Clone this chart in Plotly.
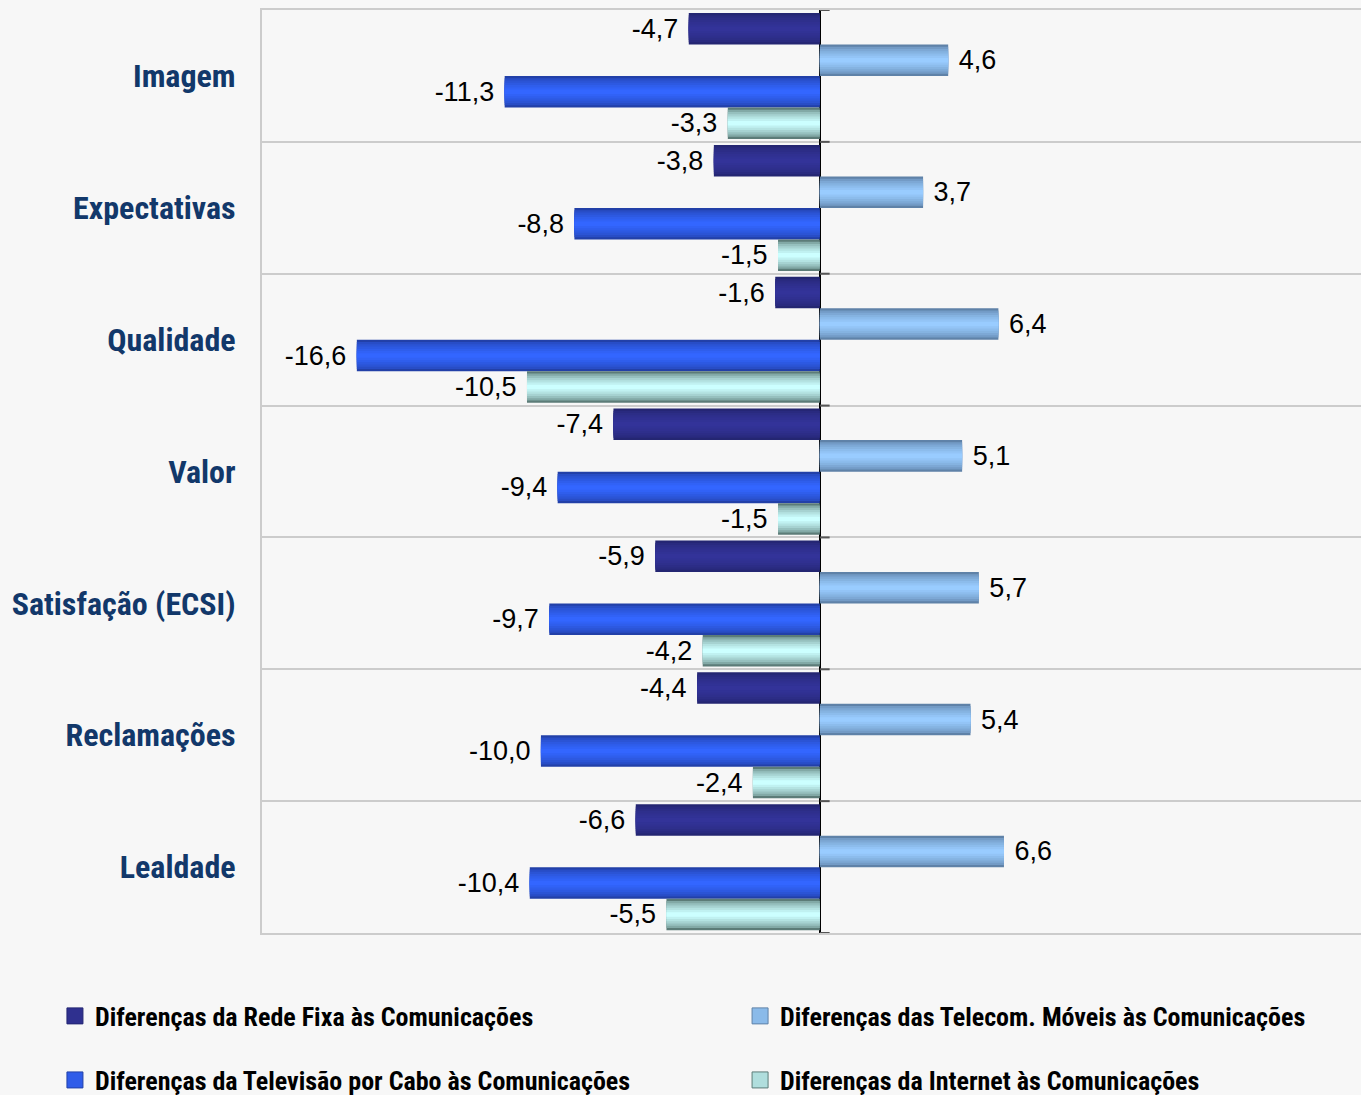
import plotly.graph_objects as go

# Indicator categories (top to bottom) and the four series of differences
categories = ["Imagem", "Expectativas", "Qualidade", "Valor",
              "Satisfação (ECSI)", "Reclamações", "Lealdade"]
rede_fixa = [-4.7, -3.8, -1.6, -7.4, -5.9, -4.4, -6.6]
moveis = [4.6, 3.7, 6.4, 5.1, 5.7, 5.4, 6.6]
tv_cabo = [-11.3, -8.8, -16.6, -9.4, -9.7, -10.0, -10.4]
internet = [-3.3, -1.5, -10.5, -1.5, -4.2, -2.4, -5.5]

series_names = [
    "Diferenças da Rede Fixa às Comunicações",
    "Diferenças das Telecom. Móveis às Comunicações",
    "Diferenças da Televisão por Cabo às Comunicações",
    "Diferenças da Internet às Comunicações",
]
series_values = [rede_fixa, moveis, tv_cabo, internet]

# edge colour -> centre colour of the cylinder-like shading of each series
edge_colors = [(0x24, 0x26, 0x72), (0x5F, 0x82, 0xA8), (0x22, 0x40, 0xA8), (0x5C, 0x7C, 0x78)]
centre_colors = [(0x33, 0x33, 0x99), (0x99, 0xCC, 0xFF), (0x33, 0x66, 0xFF), (0xCC, 0xFF, 0xFF)]

NARROW = "Liberation Sans Narrow, Arial Narrow, Roboto Condensed, Liberation Sans, Arial, sans-serif"
REGULAR = "Liberation Sans, Arial, sans-serif"
NBSP = "\u00a0"


def fmt(v):
    s = f"{v:.1f}".replace(".", ",")
    # keep a small gap between the bar end and its label
    return s + NBSP if v < 0 else NBSP + s


def mix(a, b, t):
    return "rgb({},{},{})".format(*[round(a[i] + (b[i] - a[i]) * t) for i in range(3)])


fig = go.Figure()

bar_w = 0.239          # share of a category band taken by one bar
start = -0.477         # offset of the first bar inside the band
n_layers = 7           # shading layers per bar
for k, (name, vals) in enumerate(zip(series_names, series_values)):
    base_off = start + k * bar_w
    for j in range(n_layers):
        f = 1.0 - j / n_layers
        t = (j / (n_layers - 1)) ** 0.6
        color = mix(edge_colors[k], centre_colors[k], t)
        first = j == 0
        fig.add_trace(go.Bar(
            y=categories, x=vals, orientation="h",
            name=name,
            width=bar_w * f,
            offset=base_off + bar_w * (1 - f) / 2,
            marker=dict(color=color, line=dict(width=0)),
            text=[fmt(v) for v in vals] if first else None,
            textposition="outside" if first else "none",
            textfont=dict(family=REGULAR, size=27, color="#000000"),
            cliponaxis=False,
            showlegend=False,
            hoverinfo="skip",
        ))

# legend entries: square swatches, one legend box per entry
legend_names = ["legend", "legend2", "legend3", "legend4"]
for k, name in enumerate(series_names):
    fig.add_trace(go.Scatter(
        x=[None], y=[None], mode="markers", name=name,
        marker=dict(symbol="square", size=16,
                    color=mix(edge_colors[k], centre_colors[k], 0.75),
                    line=dict(color=mix(edge_colors[k], centre_colors[k], 0.0), width=1)),
        legend=legend_names[k], showlegend=True, hoverinfo="skip",
    ))

# short stubs on the zero axis at the category boundaries
shapes = []
for i in range(len(categories) + 1):
    shapes.append(dict(type="line", xref="x", yref="y",
                       x0=0, x1=0.35, y0=i - 0.5, y1=i - 0.5,
                       line=dict(color="#555555", width=2)))

legend_common = dict(
    orientation="h", xanchor="left", yanchor="middle",
    font=dict(family=NARROW, size=26, color="#000000", weight="bold"),
    bgcolor="rgba(0,0,0,0)",
)
col_x = [-0.1884, 0.435]
row_y = [-0.0899, -0.1593]

fig.update_layout(
    width=1361, height=1095,
    margin=dict(l=262, r=0, t=10, b=162, autoexpand=False),
    paper_bgcolor="#F7F7F7", plot_bgcolor="#F7F7F7",
    barmode="overlay",
    shapes=shapes,
    legend=dict(x=col_x[0], y=row_y[0], **legend_common),
    legend2=dict(x=col_x[1], y=row_y[0], **legend_common),
    legend3=dict(x=col_x[0], y=row_y[1], **legend_common),
    legend4=dict(x=col_x[1], y=row_y[1], **legend_common),
    xaxis=dict(range=[-20, 19.4], showticklabels=False, showgrid=False,
               zeroline=True, zerolinecolor="#000000", zerolinewidth=1.5,
               showline=True, mirror=True, linecolor="#CCCCCC", linewidth=2,
               ticks=""),
    yaxis=dict(type="category", categoryorder="array", categoryarray=categories,
               range=[len(categories) - 0.5, -0.5],
               tickson="boundaries", showgrid=True, gridcolor="#CCCCCC", gridwidth=2,
               showline=True, linecolor="#CCCCCC", linewidth=2, ticks="",
               ticklabelstandoff=18,
               tickfont=dict(family=NARROW, size=32, color="#12386A", weight="bold")),
)

fig.write_html("out.html")
